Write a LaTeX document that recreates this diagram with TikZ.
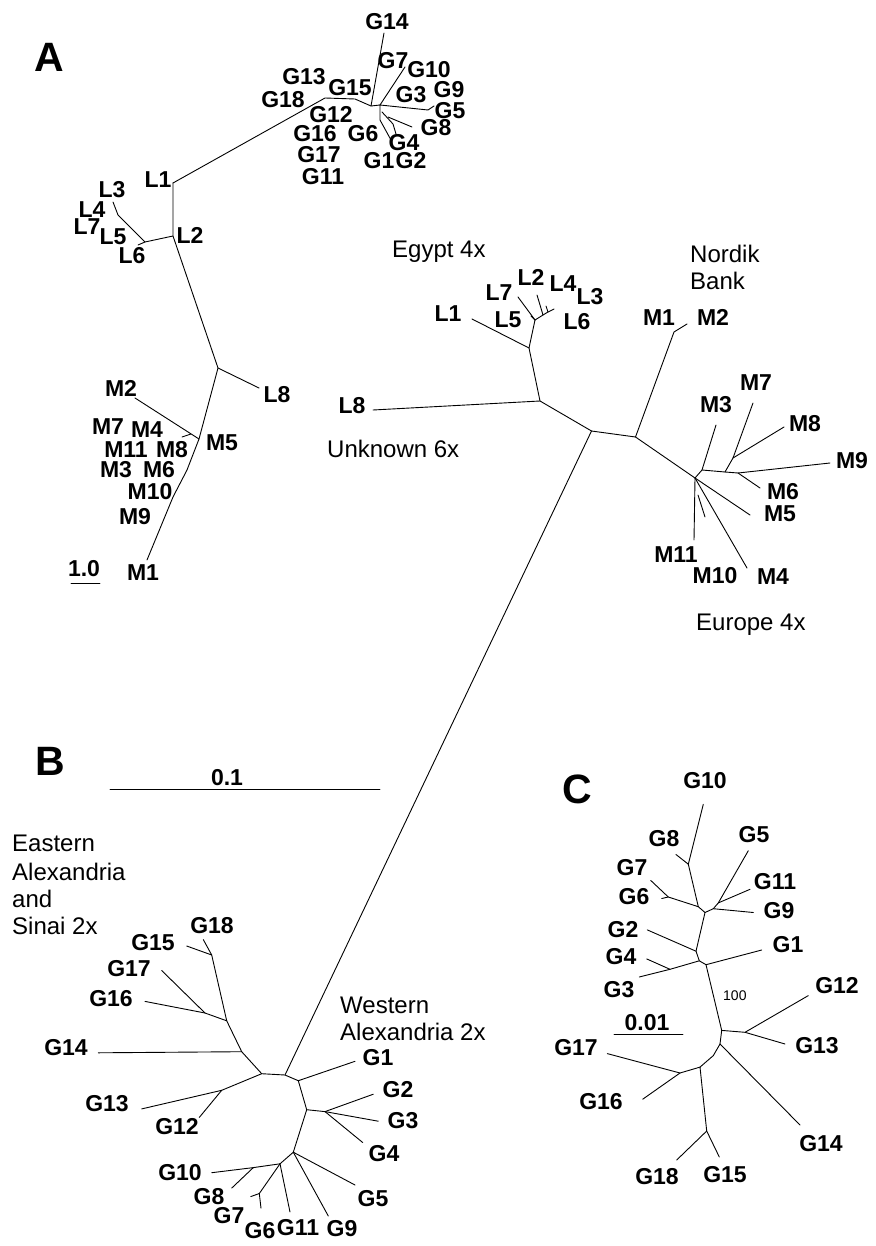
\documentclass[tikz,border=0pt]{standalone}
\usepackage{fontspec}
\setmainfont{Liberation Sans}
\tikzset{
  br/.style={line width=0.9pt, line join=round, line cap=round},
  lab/.style={font=\fontsize{23}{28}\selectfont\bfseries, inner sep=0pt},
  txt/.style={font=\fontsize{24}{28}\selectfont, inner sep=0pt, anchor=base west},
  small/.style={font=\fontsize{14}{16}\selectfont, inner sep=0pt, anchor=base west},
  panel/.style={font=\fontsize{41}{44}\selectfont\bfseries, inner sep=0pt},
}
\begin{document}
\begin{tikzpicture}[x=1pt,y=-1pt]
\fill[white] (0,0) rectangle (875,1246);
\useasboundingbox (0,0) rectangle (875,1246);

% ---------------- Panel A: small tree ----------------
\coordinate (aL1) at (173,183);
\coordinate (aK1) at (325,98);
\coordinate (aK2) at (355,99);
\coordinate (aK3) at (371,106);
\coordinate (aH) at (380,105);
\coordinate (aG14) at (384,33);
\coordinate (aG7) at (405,67);
\coordinate (aK4) at (428,110);
\coordinate (aG5) at (434,106);
\coordinate (aD1) at (380,120);
\coordinate (aD1e) at (391,140);
\coordinate (aD2s) at (382,112);
\coordinate (aD2) at (393,124);
\coordinate (aD2e) at (396,134);
\coordinate (aG8s) at (388,117);
\coordinate (aG8) at (412,127);
\coordinate (aL2) at (173,236);
\coordinate (aLc) at (145,242);
\coordinate (aLa) at (118,215);
\coordinate (aL3) at (113,202);
\coordinate (aL6) at (138,245);
\coordinate (aN8) at (218,368);
\coordinate (aL8) at (259,388);
\coordinate (aM5) at (199,439);
\coordinate (aM2) at (135,398);
\coordinate (aT1) at (182,437);
\coordinate (aT2) at (191,434);
\coordinate (aMa) at (187,470);
\coordinate (aMb) at (173,497);
\coordinate (aM1) at (147,560);

\draw[br] (aL1) -- (aK1) -- (aK2) -- (aK3) -- (aH);
\draw[br] (aK3) -- (aG14);
\draw[br] (aH) -- (aG7);
\draw[br] (aH) -- (aK4) -- (aG5);
\draw[br] (aH) -- (aD1) -- (aD1e);
\draw[br] (aD2s) -- (aD2) -- (aD2e);
\draw[br] (aG8s) -- (aG8);
\draw[br] (aL1) -- (aL2) -- (aN8) -- (aM5) -- (aMa) -- (aMb) -- (aM1);
\draw[br] (aL2) -- (aLc) -- (aLa) -- (aL3);
\draw[br] (aLc) -- (aL6);
\draw[br] (aN8) -- (aL8);
\draw[br] (aM5) -- (aM2);
\draw[br] (aT1) -- (aT2);

\node[panel] (pA) at (49,57) {A};
\node[lab] (aG14l) at (387,22) {G14};
\node[lab] (aG7l) at (393,61) {G7};
\node[lab] (aG10l) at (429,70) {G10};
\node[lab] (aG9l) at (449,90) {G9};
\node[lab] (aG3l) at (411,95) {G3};
\node[lab] (aG5l) at (450,111) {G5};
\node[lab] (aG13l) at (304,77) {G13};
\node[lab] (aG15l) at (350,88) {G15};
\node[lab] (aG18l) at (283,100) {G18};
\node[lab] (aG12l) at (331,115) {G12};
\node[lab] (aG8l) at (436,128) {G8};
\node[lab] (aG16l) at (315,134) {G16};
\node[lab] (aG6l) at (363,134) {G6};
\node[lab] (aG4l) at (404,143) {G4};
\node[lab] (aG17l) at (319,155) {G17};
\node[lab] (aG1l) at (379,161) {G1};
\node[lab] (aG2l) at (411,161) {G2};
\node[lab] (aG11l) at (323,177) {G11};
\node[lab] (aL1l) at (158,180) {L1};
\node[lab] (aL3l) at (112,190) {L3};
\node[lab] (aL4l) at (92,210) {L4};
\node[lab] (aL7l) at (87,227) {L7};
\node[lab] (aL5l) at (113,237) {L5};
\node[lab] (aL2l) at (190,235) {L2};
\node[lab] (aL6l) at (132,256) {L6};
\node[lab] (aM2l) at (121,388) {M2};
\node[lab] (aL8l) at (277,395) {L8};
\node[lab] (aM7l) at (108,427) {M7};
\node[lab] (aM4l) at (147,430) {M4};
\node[lab] (aM5l) at (222,443) {M5};
\node[lab] (aM11l) at (126,450) {M11};
\node[lab] (aM8l) at (172,450) {M8};
\node[lab] (aM3l) at (116,470) {M3};
\node[lab] (aM6l) at (159,470) {M6};
\node[lab] (aM10l) at (150,492) {M10};
\node[lab] (aM9l) at (135,517) {M9};
\node[lab] (aM1l) at (143,573) {M1};
\node[lab] (aScl) at (84,569) {1.0};
\coordinate (aSc1) at (71,583);
\coordinate (aSc2) at (100,583);
\draw[br] (aSc1) -- (aSc2);

% ---------------- Panel A: large tree ----------------
\coordinate (c0) at (591.5,431);
\coordinate (cL) at (540,401);
\coordinate (cL8) at (373,410);
\coordinate (cL1n) at (529,348);
\coordinate (cL1) at (472,319);
\coordinate (cLs) at (535,320);
\coordinate (cL7) at (518,297);
\coordinate (cLh) at (543,315);
\coordinate (cL2) at (537,295);
\coordinate (cLf) at (548,312);
\coordinate (cL4) at (546,306);
\coordinate (cL3) at (554,309);
\coordinate (cL5) at (531,316);
\coordinate (cR) at (635.5,437);
\coordinate (cM1a) at (674,332);
\coordinate (cM1b) at (687,324);
\coordinate (cH1) at (695,478);
\coordinate (cH2) at (702,470);
\coordinate (cM3) at (716,425);
\coordinate (cH3) at (725,472);
\coordinate (cH4) at (738,473);
\coordinate (cM9) at (830,463);
\coordinate (cH5) at (733,458);
\coordinate (cM7) at (753,403);
\coordinate (cM8) at (784,427);
\coordinate (cM6) at (760,488);
\coordinate (cM5) at (750,515);
\coordinate (cM4) at (747,568);
\coordinate (cM11) at (694,540);
\coordinate (cT1) at (698,495);
\coordinate (cT2) at (705,517);

\draw[br] (cL8) -- (cL) -- (c0) -- (cR) -- (cH1) -- (cH2) -- (cH3) -- (cH4) -- (cM9);
\draw[br] (cL) -- (cL1n) -- (cLs) -- (cLh) -- (cL2);
\draw[br] (cL1n) -- (cL1);
\draw[br] (cLs) -- (cL7);
\draw[br] (cLs) -- (cL5);
\draw[br] (cLh) -- (cLf) -- (cL4);
\draw[br] (cLf) -- (cL3);
\draw[br] (cR) -- (cM1a) -- (cM1b);
\draw[br] (cH2) -- (cM3);
\draw[br] (cH3) -- (cH5) -- (cM7);
\draw[br] (cH5) -- (cM8);
\draw[br] (cH4) -- (cM6);
\draw[br] (cH1) -- (cM5);
\draw[br] (cH1) -- (cM4);
\draw[br] (cH1) -- (cM11);
\draw[br] (cT1) -- (cT2);

\node[txt] (tEg) at (392,258) {Egypt 4x};
\node[txt] (tNo) at (690,263) {Nordik};
\node[txt] (tBa) at (690,290) {Bank};
\node[txt] (tUn) at (327,457) {Unknown 6x};
\node[txt] (tEu) at (696,630) {Europe 4x};
\node[lab] (cL1l) at (448,314) {L1};
\node[lab] (cL7l) at (499,293) {L7};
\node[lab] (cL2l) at (531,277) {L2};
\node[lab] (cL4l) at (563,284) {L4};
\node[lab] (cL3l) at (590,297) {L3};
\node[lab] (cL5l) at (508,320) {L5};
\node[lab] (cL6l) at (577,322) {L6};
\node[lab] (cL8l) at (352,406) {L8};
\node[lab] (cM1l) at (659,318) {M1};
\node[lab] (cM2l) at (713,317) {M2};
\node[lab] (cM7l) at (756,383) {M7};
\node[lab] (cM3l) at (716,405) {M3};
\node[lab] (cM8l) at (805,424) {M8};
\node[lab] (cM9l) at (852,461) {M9};
\node[lab] (cM6l) at (783,492) {M6};
\node[lab] (cM5l) at (780,514) {M5};
\node[lab] (cM11l) at (676,555) {M11};
\node[lab] (cM10l) at (715,576) {M10};
\node[lab] (cM4l) at (773,577) {M4};

% ---------------- Panel B ----------------
\coordinate (b0) at (285,1075);
\coordinate (b1) at (261.7,1073.7);
\coordinate (b2) at (298.3,1080.7);
\coordinate (b3) at (306.7,1109.7);
\coordinate (b4) at (325,1111.6);
\coordinate (b5) at (293.3,1152.2);
\coordinate (b6) at (280,1163.8);
\coordinate (b7) at (253.3,1167.6);
\coordinate (b8) at (259.3,1193.5);
\coordinate (be1) at (241.7,1051.7);
\coordinate (be2) at (226.7,1020.8);
\coordinate (be3) at (205,1013);
\coordinate (be4) at (211.7,955);
\coordinate (be5) at (221.7,1090.3);
\coordinate (bG14) at (98.3,1052.8);
\coordinate (bG16) at (145,1001.4);
\coordinate (bG17) at (161.7,970.5);
\coordinate (bG18) at (203.3,939.6);
\coordinate (bG15) at (186.7,946);
\coordinate (bG13) at (141.7,1108.9);
\coordinate (bG12) at (199.3,1117.4);
\coordinate (bG1) at (355,1061.3);
\coordinate (bG2) at (373.3,1094.2);
\coordinate (bG3) at (378.3,1121.2);
\coordinate (bG4) at (362.7,1142.5);
\coordinate (bG5) at (355,1185);
\coordinate (bG9) at (328.3,1216);
\coordinate (bG11) at (290,1212);
\coordinate (bG10) at (211.7,1172.7);
\coordinate (bG8) at (231.7,1188.1);
\coordinate (bG7) at (250.7,1196.6);
\coordinate (bG6) at (261,1208.2);

\draw[br] (c0) -- (b0);
\draw[br] (b1) -- (b0) -- (b2) -- (b3) -- (b5) -- (b6) -- (b7) -- (bG10);
\draw[br] (b1) -- (be1) -- (be2) -- (be4) -- (bG18);
\draw[br] (be4) -- (bG15);
\draw[br] (be2) -- (be3) -- (bG16);
\draw[br] (be3) -- (bG17);
\draw[br] (be1) -- (bG14);
\draw[br] (b1) -- (be5) -- (bG13);
\draw[br] (be5) -- (bG12);
\draw[br] (b2) -- (bG1);
\draw[br] (b3) -- (b4) -- (bG2);
\draw[br] (b4) -- (bG3);
\draw[br] (b4) -- (bG4);
\draw[br] (b5) -- (bG5);
\draw[br] (b5) -- (bG9);
\draw[br] (b6) -- (bG11);
\draw[br] (b6) -- (b8) -- (bG7);
\draw[br] (b8) -- (bG6);
\draw[br] (b7) -- (bG8);

\node[panel] (pB) at (50,761) {B};
\node[lab] (bScl) at (227,778) {0.1};
\coordinate (bSc1) at (110,789);
\coordinate (bSc2) at (380,789);
\draw[br] (bSc1) -- (bSc2);
\node[txt] (tEa1) at (12,851) {Eastern};
\node[txt] (tEa2) at (12,880) {Alexandria};
\node[txt] (tEa3) at (12,907) {and};
\node[txt] (tEa4) at (12,934) {Sinai 2x};
\node[txt] (tWe1) at (340,1013) {Western};
\node[txt] (tWe2) at (340,1040) {Alexandria 2x};
\node[lab] (bG18l) at (212,926) {G18};
\node[lab] (bG15l) at (153,943) {G15};
\node[lab] (bG17l) at (129,969) {G17};
\node[lab] (bG16l) at (111,999) {G16};
\node[lab] (bG14l) at (66,1048) {G14};
\node[lab] (bG13l) at (107,1104) {G13};
\node[lab] (bG12l) at (177,1127) {G12};
\node[lab] (bG1l) at (378,1058) {G1};
\node[lab] (bG2l) at (398,1090) {G2};
\node[lab] (bG3l) at (403,1121) {G3};
\node[lab] (bG4l) at (384,1154) {G4};
\node[lab] (bG5l) at (373,1199) {G5};
\node[lab] (bG10l) at (180,1173) {G10};
\node[lab] (bG8l) at (209,1197) {G8};
\node[lab] (bG7l) at (229,1216) {G7};
\node[lab] (bG6l) at (260,1231) {G6};
\node[lab] (bG11l) at (298,1228) {G11};
\node[lab] (bG9l) at (342,1229) {G9};

% ---------------- Panel C ----------------
\coordinate (kG10) at (703.3,804.3);
\coordinate (k1) at (688.3,864.2);
\coordinate (kG8) at (676,854.5);
\coordinate (k2) at (698.3,906.7);
\coordinate (k3) at (668.3,897);
\coordinate (kG7) at (650.7,880.4);
\coordinate (kG6) at (661.7,898.5);
\coordinate (k4) at (705,912.5);
\coordinate (k5) at (713.3,908.7);
\coordinate (kG9) at (753.3,912.5);
\coordinate (k6) at (718.3,902.9);
\coordinate (kG5) at (748.3,850.7);
\coordinate (kG11) at (750,889.3);
\coordinate (k7) at (696,951.2);
\coordinate (kG2) at (647.3,929.9);
\coordinate (k7b) at (699.3,960.8);
\coordinate (kG4n) at (670,969.3);
\coordinate (kG3) at (639.3,977);
\coordinate (kG4) at (646.7,958.9);
\coordinate (k8) at (706,964.7);
\coordinate (kG1) at (761.7,950);
\coordinate (k9) at (721.7,1030.4);
\coordinate (k10) at (745,1032.3);
\coordinate (kG12) at (808.3,995.6);
\coordinate (kG13) at (785,1044);
\coordinate (k11) at (720,1044);
\coordinate (kG14) at (800,1125);
\coordinate (k12) at (713.3,1055.6);
\coordinate (k13) at (700,1067.1);
\coordinate (k14) at (680,1073);
\coordinate (kG17) at (607.3,1053.6);
\coordinate (kG16) at (642.7,1099.2);
\coordinate (k15) at (706.7,1131);
\coordinate (kG18) at (676.7,1160);
\coordinate (kG15) at (719.3,1157);

\draw[br] (kG10) -- (k1) -- (k2) -- (k4) -- (k7) -- (k7b) -- (k8) -- (k9) -- (k11) -- (k12) -- (k13) -- (k15) -- (kG18);
\draw[br] (k1) -- (kG8);
\draw[br] (k2) -- (k3) -- (kG7);
\draw[br] (k3) -- (kG6);
\draw[br] (k4) -- (k5) -- (kG9);
\draw[br] (k5) -- (k6) -- (kG5);
\draw[br] (k6) -- (kG11);
\draw[br] (k7) -- (kG2);
\draw[br] (k7b) -- (kG4n) -- (kG3);
\draw[br] (kG4n) -- (kG4);
\draw[br] (k8) -- (kG1);
\draw[br] (k9) -- (k10) -- (kG12);
\draw[br] (k10) -- (kG13);
\draw[br] (k11) -- (kG14);
\draw[br] (k13) -- (k14) -- (kG17);
\draw[br] (k14) -- (kG16);
\draw[br] (k15) -- (kG15);

\node[panel] (pC) at (577,789) {C};
\node[lab] (kG10l) at (705,781) {G10};
\node[lab] (kG8l) at (664,839) {G8};
\node[lab] (kG5l) at (754,835) {G5};
\node[lab] (kG7l) at (632,868) {G7};
\node[lab] (kG11l) at (775,882) {G11};
\node[lab] (kG6l) at (634,897) {G6};
\node[lab] (kG9l) at (779,911) {G9};
\node[lab] (kG2l) at (623,930) {G2};
\node[lab] (kG1l) at (788,945) {G1};
\node[lab] (kG4l) at (621,957) {G4};
\node[lab] (kG3l) at (619,990) {G3};
\node[small] (kBs) at (723,1000) {100};
\node[lab] (kG12l) at (837,986) {G12};
\node[lab] (kScl) at (647,1023) {0.01};
\coordinate (kSc1) at (614,1034);
\coordinate (kSc2) at (683,1034);
\draw[br] (kSc1) -- (kSc2);
\node[lab] (kG17l) at (576,1048) {G17};
\node[lab] (kG13l) at (817,1046) {G13};
\node[lab] (kG16l) at (601,1102) {G16};
\node[lab] (kG14l) at (821,1144) {G14};
\node[lab] (kG18l) at (657,1177) {G18};
\node[lab] (kG15l) at (725,1175) {G15};
\end{tikzpicture}
\end{document}
